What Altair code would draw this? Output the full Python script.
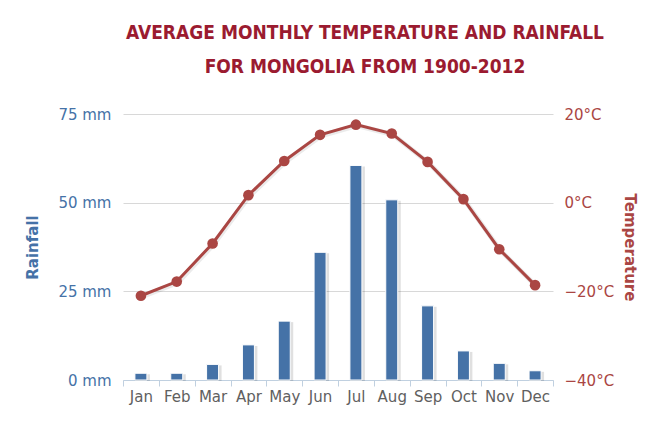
import altair as alt
import pandas as pd

months = ["Jan", "Feb", "Mar", "Apr", "May", "Jun", "Jul", "Aug", "Sep", "Oct", "Nov", "Dec"]
rainfall = [1.9, 1.9, 4.4, 9.9, 16.6, 36.0, 60.5, 50.8, 20.9, 8.2, 4.7, 2.6]
temperature = [-21.0, -17.8, -9.2, 1.7, 9.4, 15.3, 17.6, 15.6, 9.2, 0.8, -10.5, -18.6]
rain_ticks = [0, 25, 50, 75]
temp_ticks = [-40, -20, 0, 20]

df = pd.DataFrame({"month": months, "rain": rainfall, "temp": temperature})

BLUE = "#4572A7"
RED = "#AA4643"
LABEL_FONT = "DejaVu Sans"

x_enc = alt.X(
    "month:N", sort=months, title=None,
    scale=alt.Scale(paddingInner=0, paddingOuter=0),
    axis=alt.Axis(labelAngle=0, labelFont=LABEL_FONT, labelFontSize=15, labelColor="#606060",
                  labelPadding=3, domainColor="#C0D0E0", tickColor="#C0D0E0", tickSize=6,
                  tickBand="extent", grid=False),
)

base = alt.Chart(df).encode(x=x_enc)

rain_scale = alt.Scale(domain=[0, 75], nice=False, zero=True)
temp_scale = alt.Scale(domain=[-40, 20], nice=False, zero=False)

y_rain = alt.Y(
    "rain:Q", scale=rain_scale,
    axis=alt.Axis(values=rain_ticks, orient="left", grid=True, gridColor="#D8D8D8",
                  domain=False, ticks=False, labelPadding=12,
                  labelExpr="datum.value + ' mm'", labelFont=LABEL_FONT, labelFontSize=15,
                  labelColor=BLUE, title="Rainfall", titleColor=BLUE, titleFont=LABEL_FONT,
                  titleFontSize=15, titleFontWeight="bold", titlePadding=17),
)

y_temp = alt.Y(
    "temp:Q", scale=temp_scale,
    axis=alt.Axis(values=temp_ticks, orient="right", grid=False, domain=False, ticks=False,
                  labelPadding=11, labelExpr="format(datum.value, 'd') + '°C'",
                  labelFont=LABEL_FONT, labelFontSize=15, labelColor=RED,
                  title="Temperature", titleColor=RED, titleFont=LABEL_FONT, titleFontSize=15,
                  titleFontWeight="bold", titleAngle=90, titlePadding=8),
)

shadow = base.mark_bar(size=15, color="black", opacity=0.12, xOffset=1.5, yOffset=1).encode(y=y_rain)
bars = base.mark_bar(size=12, color=BLUE, stroke="white", strokeWidth=1).encode(y=y_rain)

line_shadow = base.mark_line(color="black", strokeWidth=5, opacity=0.08, xOffset=1, yOffset=1).encode(y=y_temp)
line = base.mark_line(color=RED, strokeWidth=3).encode(y=y_temp)
points = base.mark_circle(color=RED, size=113, opacity=1).encode(y=y_temp)

rain_layer = alt.layer(shadow, bars)
temp_layer = alt.layer(line_shadow, line, points)

chart = alt.layer(rain_layer, temp_layer).resolve_scale(y="independent").properties(
    width=430,
    height=266,
    padding={"left": 115, "top": 106, "right": 100, "bottom": 30},
    autosize=alt.AutoSizeParams(type="none"),
    title=alt.Title(
        ["AVERAGE MONTHLY TEMPERATURE AND RAINFALL", "FOR MONGOLIA FROM 1900-2012"],
        font="Liberation Sans Narrow, DejaVu Sans Condensed, sans-serif",
        fontSize=19, fontWeight="bold", color="#9B1B30", anchor="middle",
        dx=27, offset=30, lineHeight=34,
    ),
).configure_view(stroke=None)

chart.save("out.html", embed_options={"renderer": "svg", "actions": False})
